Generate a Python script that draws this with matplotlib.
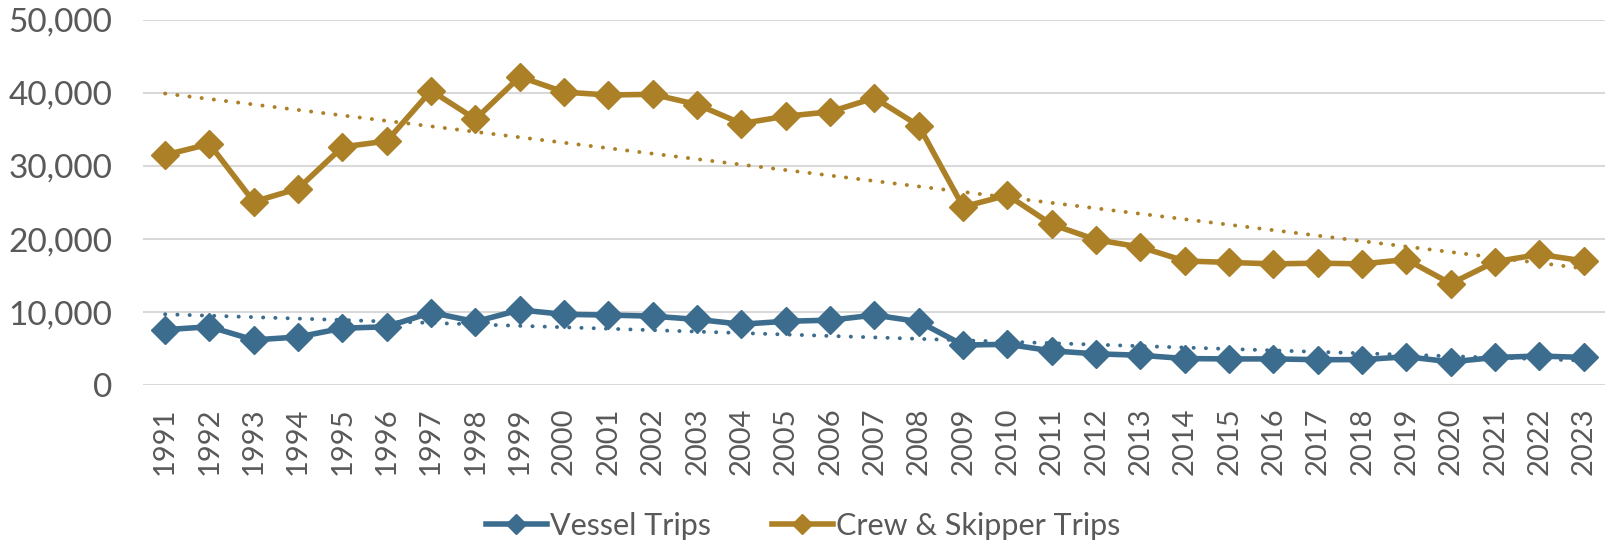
import numpy as np
import matplotlib.pyplot as plt

years = list(range(1991, 2024))
vessel = [7600, 8000, 6200, 6600, 7800, 8000, 9950, 8700, 10300, 9700,
          9600, 9450, 9000, 8350, 8750, 8900, 9600, 8700, 5500, 5600,
          4700, 4300, 4100, 3650, 3600, 3600, 3500, 3500, 3900, 3200,
          3800, 4000, 3800]
crew = [31500, 33000, 25100, 26900, 32600, 33400, 40300, 36400, 42200, 40100,
        39700, 39800, 38400, 35800, 36800, 37400, 39300, 35500, 24400, 26000,
        22000, 19900, 18900, 17000, 16800, 16600, 16700, 16600, 17200, 13900,
        16900, 17900, 17000]

blue = '#3d6d8e'
gold = '#ac8027'

plt.rcParams['font.family'] = ['Lato', 'DejaVu Sans']
fig = plt.figure(figsize=(16.06, 5.48), dpi=100)
ax = fig.add_axes([0.089, 0.297, 0.911, 0.667])

x = np.array(years)
ax.plot(x, vessel, color=blue, lw=4, marker='D', ms=14, label='Vessel Trips', zorder=3)
ax.plot(x, crew, color=gold, lw=4, marker='D', ms=14, label='Crew & Skipper Trips', zorder=3)

# linear trend lines
for y, c in [(vessel, blue), (crew, gold)]:
    k, b = np.polyfit(x, y, 1)
    ax.plot(x, k * x + b, color=c, lw=2.8, ls=(0, (0.05, 3.1)), dash_capstyle='round', zorder=2)

ax.set_xlim(1990.5, 2023.5)
ax.set_ylim(0, 50000)
ax.set_yticks(range(0, 50001, 10000))
ax.set_yticklabels([f'{v:,}' for v in range(0, 50001, 10000)])
ax.set_xticks(years)
ax.set_xticklabels([str(v) for v in years], rotation=90)
ax.tick_params(axis='y', labelsize=24, colors='#595959', length=0, pad=22)
ax.tick_params(axis='x', labelsize=21, colors='#595959', length=0, pad=16)
ax.grid(axis='y', color='#d9d9d9', lw=1.5)
for s in ax.spines.values():
    s.set_visible(False)

fig.legend(*ax.get_legend_handles_labels(), loc='center', bbox_to_anchor=(0.5, 0.04),
           ncol=2, frameon=False, fontsize=22, labelcolor='#595959',
           handlelength=2.0, handletextpad=0.1, columnspacing=2.0, markerscale=0.75)

fig.savefig('out.png', dpi=100)
